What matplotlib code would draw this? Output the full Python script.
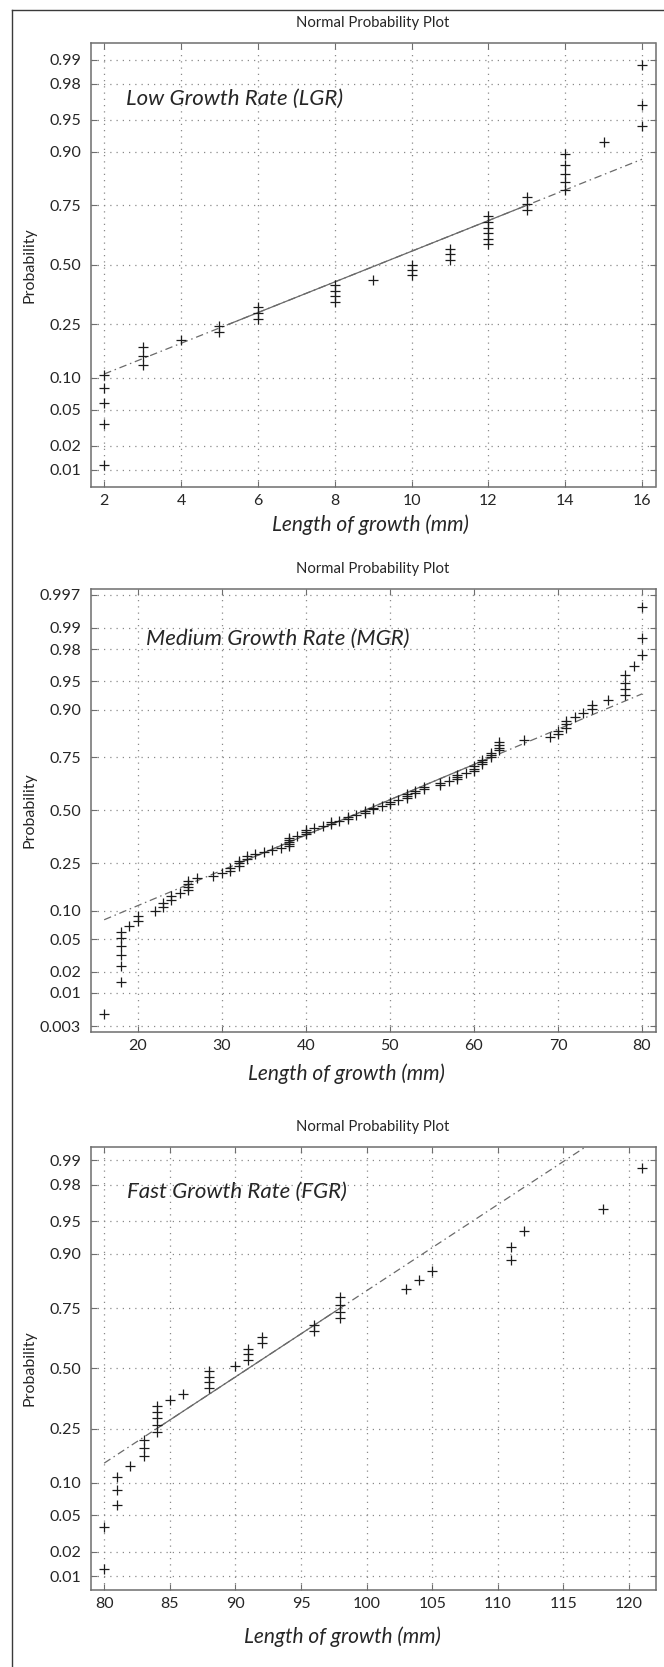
import matplotlib
matplotlib.use('Agg')

import matplotlib.pyplot as plt
from matplotlib.lines import Line2D
import numpy as np
from statistics import NormalDist

plt.rcParams['font.family'] = ['Lato', 'DejaVu Sans']

# =========================
# DATA (sorted samples as value + repeat count)
# =========================

# Low growth rate (mm)
lgr_values = [2, 3, 4, 5, 6, 8, 9, 10, 11, 12, 13, 14, 15, 16]
lgr_counts = [5, 3, 1, 2, 3, 4, 1, 3, 3, 6, 3, 5, 1, 3]

# Medium growth rate (mm)
mgr_values = [16, 18, 19, 20, 22, 23, 24, 25, 26, 27, 29, 30, 31, 32, 33, 34, 35, 36, 37,
              38, 39, 40, 41, 42, 43, 44, 45, 46, 47, 48, 49, 50, 51, 52, 53, 54, 56, 57,
              58, 59, 60, 61, 62, 63, 66, 69, 70, 71, 72, 73, 74, 76, 78, 79, 80]
mgr_counts = [1, 6, 1, 2, 1, 2, 2, 1, 4, 1, 1, 1, 2, 3, 2, 1, 1, 1, 1,
              5, 1, 3, 1, 1, 2, 1, 2, 1, 2, 2, 1, 2, 1, 3, 2, 2, 2, 1,
              3, 1, 3, 3, 3, 4, 1, 1, 2, 3, 1, 1, 2, 1, 4, 1, 3]

# Fast growth rate (mm)
fgr_values = [80, 81, 82, 83, 84, 85, 86, 88, 90, 91, 92, 96, 98, 103, 104, 105, 111, 112, 118, 121]
fgr_counts = [2, 3, 1, 3, 5, 1, 1, 4, 1, 3, 2, 2, 4, 1, 1, 1, 2, 1, 1, 1]

prob_ticks = [0.01, 0.02, 0.05, 0.10, 0.25, 0.50, 0.75, 0.90, 0.95, 0.98, 0.99]
prob_ticks_mgr = [0.003] + prob_ticks + [0.997]

lgr_xticks = [2, 4, 6, 8, 10, 12, 14, 16]
mgr_xticks = [20, 30, 40, 50, 60, 70, 80]
fgr_xticks = [80, 85, 90, 95, 100, 105, 110, 115, 120]

nd = NormalDist()

# =========================
# FIGURE
# =========================
W, H = 664, 1667
fig = plt.figure(figsize=(W / 100, H / 100), dpi=100)
fig.patch.set_facecolor('white')

# outer frame (only left/top edges visible)
fig.add_artist(Line2D([12.3 / W, 12.3 / W], [0, 1 - 10 / H], transform=fig.transFigure,
                      color='#3a3a3a', lw=1.0))
fig.add_artist(Line2D([12.3 / W, 1], [1 - 10 / H, 1 - 10 / H], transform=fig.transFigure,
                      color='#3a3a3a', lw=1.0))

TXT = '#262626'
GRID = '#8a8a8a'
SPINE = '#6e6e6e'


def prctile(xs, q):
    # MATLAB style percentile
    n = len(xs)
    pos = 100.0 * (np.arange(1, n + 1) - 0.5) / n
    return np.interp(q, pos, xs)


panels = [
    dict(values=lgr_values, counts=lgr_counts, xticks=lgr_xticks, yticks=prob_ticks,
         zlim=2.52, top=42.7, bottom=486.7, name='Low Growth Rate (LGR)', name_xy=(0.0625, 0.8725),
         xlab_xy=(0.496, -0.0863)),
    dict(values=mgr_values, counts=mgr_counts, xticks=mgr_xticks, yticks=prob_ticks_mgr,
         zlim=2.82, top=589.0, bottom=1031.7, name='Medium Growth Rate (MGR)', name_xy=(0.0973, 0.887),
         xlab_xy=(0.452, -0.094)),
    dict(values=fgr_values, counts=fgr_counts, xticks=fgr_xticks, yticks=prob_ticks,
         zlim=2.48, top=1146.7, bottom=1590.0, name='Fast Growth Rate (FGR)', name_xy=(0.0639, 0.899),
         xlab_xy=(0.446, -0.105)),
]

ax_left, ax_right = 90.7, 655.5

for pnl in panels:
    top, bottom = pnl['top'], pnl['bottom']
    ax = fig.add_axes([ax_left / W, 1 - bottom / H, (ax_right - ax_left) / W, (bottom - top) / H])

    xs = np.repeat(pnl['values'], pnl['counts']).astype(float)
    n = len(xs)
    zs = np.array([nd.inv_cdf((i - 0.5) / n) for i in range(1, n + 1)])

    # reference line through the quartiles (normplot style)
    q1x, q3x = prctile(xs, 25), prctile(xs, 75)
    q1y, q3y = prctile(zs, 25), prctile(zs, 75)
    slope = (q3y - q1y) / (q3x - q1x)
    ax.plot([xs.min(), xs.max()],
            [q1y + slope * (xs.min() - q1x), q1y + slope * (xs.max() - q1x)],
            color='#6a6a6a', lw=0.9, linestyle=(0, (6, 3, 1.2, 3)), zorder=2)
    ax.plot([q1x, q3x], [q1y, q3y], color='#6a6a6a', lw=0.9, zorder=2)

    ax.plot(xs, zs, '+', color='#1c1c1c', markersize=7.5, markeredgewidth=0.9, zorder=3)

    rng = xs.max() - xs.min()
    ax.set_xlim(xs.min() - 0.025 * rng, xs.max() + 0.025 * rng)
    ax.set_ylim(-pnl['zlim'], pnl['zlim'])

    ax.set_xticks(pnl['xticks'])
    ax.set_xticklabels([str(t) for t in pnl['xticks']])
    ax.set_yticks([nd.inv_cdf(p) for p in pnl['yticks']])
    ax.set_yticklabels([('%.3f' % p) if p in (0.003, 0.997) else ('%.2f' % p) for p in pnl['yticks']])

    ax.grid(True, color=GRID, linestyle=(0, (1, 4)), linewidth=0.9)
    ax.tick_params(direction='in', top=True, right=True, length=4, width=0.8,
                   colors=SPINE, labelcolor=TXT, labelsize=11.5)
    ax.tick_params(axis='x', pad=5)
    ax.tick_params(axis='y', pad=7)
    for sp in ax.spines.values():
        sp.set_edgecolor(SPINE)
        sp.set_linewidth(1.1)

    ax.text(0.5, 1 + 20 / (bottom - top), 'Normal Probability Plot', transform=ax.transAxes,
            ha='center', va='center', fontsize=10.7, color=TXT)
    ax.text(pnl['name_xy'][0], pnl['name_xy'][1], pnl['name'], transform=ax.transAxes,
            ha='left', va='center', fontsize=16, style='italic', color=TXT)

    ax.set_xlabel('Length of growth (mm)', fontsize=15, style='italic', color=TXT, va='center')
    ax.xaxis.set_label_coords(*pnl['xlab_xy'])
    ax.set_ylabel('Probability', fontsize=11.5, color=TXT, va='center')
    ax.yaxis.set_label_coords((29.6 - ax_left) / (ax_right - ax_left), 0.5)

fig.savefig('out.png', dpi=100)
